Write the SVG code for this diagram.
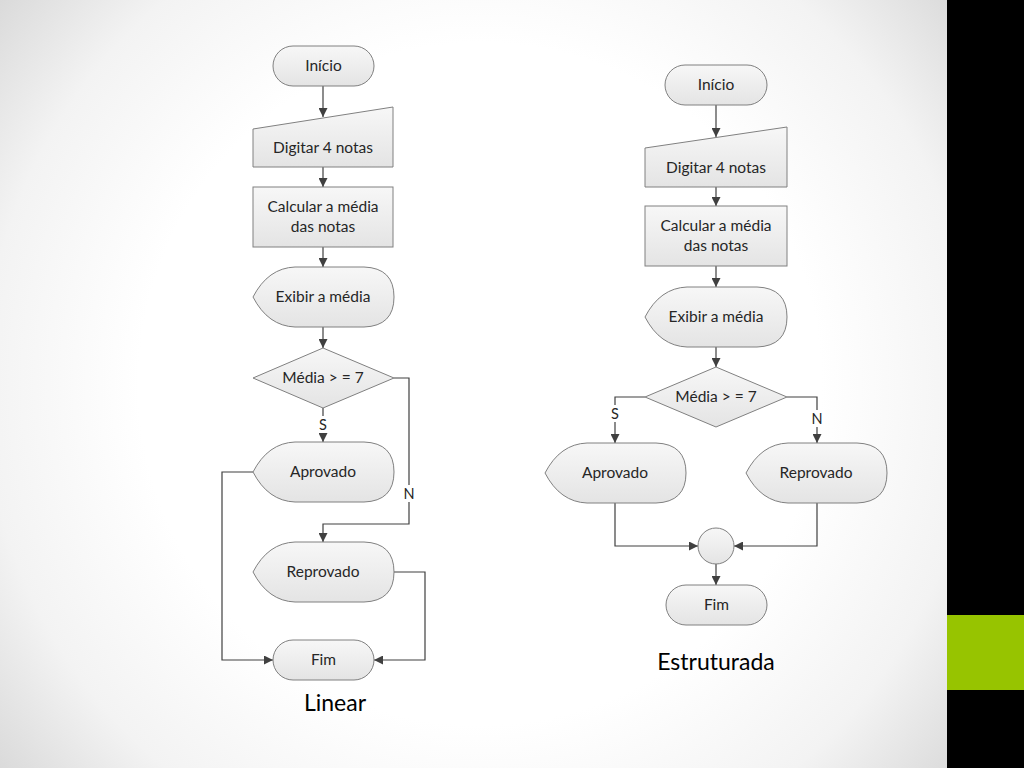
<svg xmlns="http://www.w3.org/2000/svg" width="1024" height="768" viewBox="0 0 1024 768">
<defs>
<radialGradient id="bg" cx="480" cy="384" r="620" gradientUnits="userSpaceOnUse">
<stop offset="0.55" stop-color="#ffffff"/>
<stop offset="0.8" stop-color="#f3f3f3"/>
<stop offset="1" stop-color="#d9d9d9"/>
</radialGradient>
<linearGradient id="fill" x1="0" y1="0" x2="0" y2="1">
<stop offset="0" stop-color="#f7f7f7"/>
<stop offset="1" stop-color="#e4e4e4"/>
</linearGradient>
<marker id="arr" viewBox="0 0 10 10" refX="10" refY="5" markerWidth="9" markerHeight="9" markerUnits="userSpaceOnUse" orient="auto">
<path d="M0,0 L10,5 L0,10 Z" fill="#404040"/>
</marker>
</defs>
<style>
.shape{fill:url(#fill);stroke:#808080;stroke-width:1}
.lbl{font-family:Lato,"Open Sans","Liberation Sans",sans-serif;font-size:15.5px;fill:#262626;text-anchor:middle}
.edge{fill:none;stroke:#404040;stroke-width:1.2}
.tag{font-family:Lato,"Open Sans","Liberation Sans",sans-serif;font-size:14.5px;fill:#262626;text-anchor:middle}
.title{font-family:Lato,"Open Sans","Liberation Sans",sans-serif;font-size:23px;fill:#000;text-anchor:middle}
</style>
<rect x="0" y="0" width="1024" height="768" fill="url(#bg)"/>
<rect x="947" y="0" width="77" height="768" fill="#000"/>
<rect x="947" y="615" width="77" height="75" fill="#97c400"/>

<g id="connectors">
<!-- left chart -->
<path class="edge" d="M323,86 V117" marker-end="url(#arr)"/>
<path class="edge" d="M323,167 V187" marker-end="url(#arr)"/>
<path class="edge" d="M323,247 V267" marker-end="url(#arr)"/>
<path class="edge" d="M323,327 V348" marker-end="url(#arr)"/>
<path class="edge" d="M323,408 V442" marker-end="url(#arr)"/>
<path class="edge" d="M394,378 H409 V524 H323 V542" marker-end="url(#arr)"/>
<path class="edge" d="M253,472 H222 V660 H273" marker-end="url(#arr)"/>
<path class="edge" d="M394,572 H425 V660 H374" marker-end="url(#arr)"/>
<!-- right chart -->
<path class="edge" d="M716,105 V137" marker-end="url(#arr)"/>
<path class="edge" d="M716,187 V206" marker-end="url(#arr)"/>
<path class="edge" d="M716,266 V287" marker-end="url(#arr)"/>
<path class="edge" d="M716,347 V367" marker-end="url(#arr)"/>
<path class="edge" d="M645,397 H615 V443" marker-end="url(#arr)"/>
<path class="edge" d="M787,397 H817 V443" marker-end="url(#arr)"/>
<path class="edge" d="M615,503 V546 H698" marker-end="url(#arr)"/>
<path class="edge" d="M817,503 V546 H734" marker-end="url(#arr)"/>
<path class="edge" d="M716,564 V585" marker-end="url(#arr)"/>
<!-- labels -->
<rect x="316" y="416" width="14" height="17" fill="#ffffff"/>
<text class="tag" x="323" y="430">S</text>
<rect x="402" y="485" width="15" height="17" fill="#ffffff"/>
<text class="tag" x="409" y="499">N</text>
<rect x="608" y="405" width="14" height="17" fill="#ffffff"/>
<text class="tag" x="615" y="419">S</text>
<rect x="810" y="410" width="15" height="17" fill="#ffffff"/>
<text class="tag" x="817" y="424">N</text>
</g>

<!-- Left chart nodes -->
<g id="l-inicio">
<rect class="shape" x="273" y="46" width="101" height="40" rx="20" ry="20"/>
<text class="lbl" x="323.5" y="71">Início</text>
</g>
<g id="l-digitar">
<path class="shape" d="M253,129 L393,107 L393,167 L253,167 Z"/>
<text class="lbl" x="323" y="153">Digitar 4 notas</text>
</g>
<g id="l-calcular">
<rect class="shape" x="253" y="187" width="140" height="60"/>
<text class="lbl" x="323" y="212">Calcular a média</text>
<text class="lbl" x="323" y="232">das notas</text>
</g>
<g id="l-exibir">
<path class="shape" d="M253,297 Q268,268 295,267 L364,267 Q394,268 394,297 Q394,326 364,327 L295,327 Q268,326 253,297 Z"/>
<text class="lbl" x="323" y="302">Exibir a média</text>
</g>
<g id="l-decisao">
<path class="shape" d="M323,348 L394,378 L323,408 L253,378 Z"/>
<text class="lbl" x="323" y="383">Média &gt; = 7</text>
</g>
<g id="l-aprovado">
<path class="shape" d="M253,472 Q268,443 295,442 L364,442 Q394,443 394,472 Q394,501 364,502 L295,502 Q268,501 253,472 Z"/>
<text class="lbl" x="323" y="477">Aprovado</text>
</g>
<g id="l-reprovado">
<path class="shape" d="M253,572 Q268,543 295,542 L364,542 Q394,543 394,572 Q394,601 364,602 L295,602 Q268,601 253,572 Z"/>
<text class="lbl" x="323" y="577">Reprovado</text>
</g>
<g id="l-fim">
<rect class="shape" x="273" y="640" width="101" height="40" rx="20" ry="20"/>
<text class="lbl" x="323.5" y="665">Fim</text>
</g>
<text class="title" x="335" y="711">Linear</text>

<!-- Right chart nodes -->
<g id="r-inicio">
<rect class="shape" x="665" y="65" width="102" height="40" rx="20" ry="20"/>
<text class="lbl" x="716" y="90">Início</text>
</g>
<g id="r-digitar">
<path class="shape" d="M645,148 L787,127 L787,187 L645,187 Z"/>
<text class="lbl" x="716" y="173">Digitar 4 notas</text>
</g>
<g id="r-calcular">
<rect class="shape" x="645" y="206" width="142" height="60"/>
<text class="lbl" x="716" y="231">Calcular a média</text>
<text class="lbl" x="716" y="251">das notas</text>
</g>
<g id="r-exibir">
<path class="shape" d="M645,317 Q660,288 687,287 L757,287 Q787,288 787,317 Q787,346 757,347 L687,347 Q660,346 645,317 Z"/>
<text class="lbl" x="716" y="322">Exibir a média</text>
</g>
<g id="r-decisao">
<path class="shape" d="M716,367 L787,397 L716,427 L645,397 Z"/>
<text class="lbl" x="716" y="402">Média &gt; = 7</text>
</g>
<g id="r-aprovado">
<path class="shape" d="M545,473 Q560,444 587,443 L656,443 Q686,444 686,473 Q686,502 656,503 L587,503 Q560,502 545,473 Z"/>
<text class="lbl" x="615" y="478">Aprovado</text>
</g>
<g id="r-reprovado">
<path class="shape" d="M746,473 Q761,444 788,443 L857,443 Q887,444 887,473 Q887,502 857,503 L788,503 Q761,502 746,473 Z"/>
<text class="lbl" x="816" y="478">Reprovado</text>
</g>
<g id="r-juncao">
<circle class="shape" cx="716" cy="546" r="18"/>
</g>
<g id="r-fim">
<rect class="shape" x="666" y="585" width="101" height="40" rx="20" ry="20"/>
<text class="lbl" x="716.5" y="610">Fim</text>
</g>
<text class="title" x="716" y="670">Estruturada</text>
</svg>
